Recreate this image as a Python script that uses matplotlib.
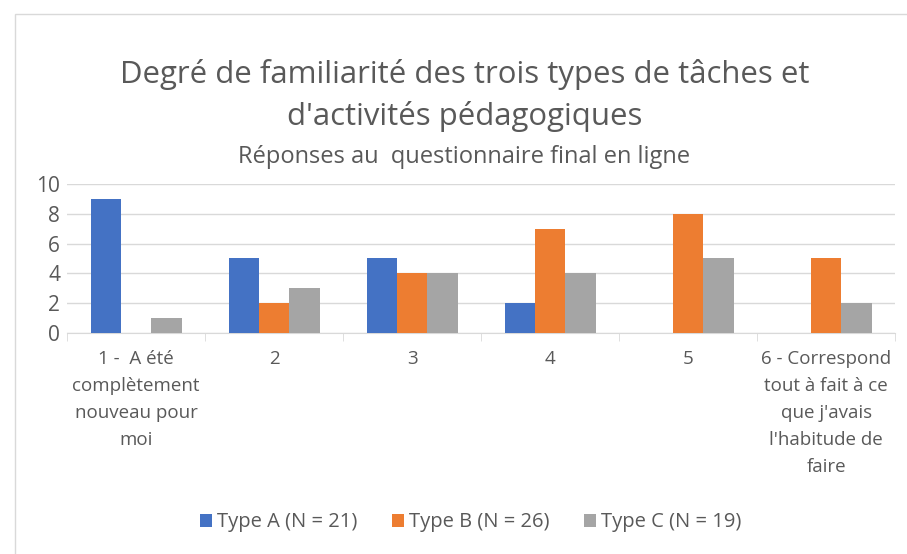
import numpy as np
import matplotlib.pyplot as plt
from matplotlib.patches import Rectangle

categories = ["1 -  A été\ncomplètement\nnouveau pour\nmoi", "2", "3", "4", "5",
              "6 - Correspond\ntout à fait à ce\nque j'avais\nl'habitude de\nfaire"]
type_a = [9, 5, 5, 2, 0, 0]
type_b = [0, 2, 4, 7, 8, 5]
type_c = [1, 3, 4, 4, 5, 2]
labels = ["Type A (N = 21)", "Type B (N = 26)", "Type C (N = 19)"]
colors = ["#4472C4", "#ED7D31", "#A5A5A5"]

plt.rcParams['font.family'] = ['Open Sans', 'DejaVu Sans']
txt = '#595959'

fig = plt.figure(figsize=(9.07, 5.54), dpi=100)
fig.patches.append(Rectangle((0.016, -0.01), 1.0, 0.985, transform=fig.transFigure,
                             fill=False, edgecolor='#D9D9D9', linewidth=1.0))
ax = fig.add_axes([0.074, 0.399, 0.913, 0.269])

x = np.arange(len(categories))
w = 0.22
for i, (vals, lab, col) in enumerate(zip([type_a, type_b, type_c], labels, colors)):
    ax.bar(x + (i - 1) * w, vals, w, color=col, label=lab, zorder=3)

ax.set_xlim(-0.5, 5.5)
ax.set_ylim(0, 10)
ax.set_yticks([0, 2, 4, 6, 8, 10])
ax.yaxis.grid(True, color='#D9D9D9', linewidth=1.0, zorder=0)
for s in ['top', 'right', 'left']:
    ax.spines[s].set_visible(False)
ax.spines['bottom'].set_color('#D9D9D9')
ax.set_xticks(x)
ax.set_xticklabels(categories, color=txt, fontsize=13.5, linespacing=1.65)
ax.set_xticks(np.arange(-0.5, 6, 1), minor=True)
ax.tick_params(axis='x', which='major', length=0, pad=12)
ax.tick_params(axis='x', which='minor', length=6, color='#D9D9D9')
ax.tick_params(axis='y', length=0, labelsize=15, labelcolor=txt, pad=5)

fig.text(0.512, 0.866, "Degré de familiarité des trois types de tâches et",
         ha='center', va='center', fontsize=22.4, color=txt)
fig.text(0.512, 0.79, "d'activités pédagogiques",
         ha='center', va='center', fontsize=22.4, color=txt)
fig.text(0.512, 0.717, "Réponses au  questionnaire final en ligne",
         ha='center', va='center', fontsize=17, color=txt)

fig.legend(loc='center', bbox_to_anchor=(0.519, 0.057), ncol=3, frameon=False,
           fontsize=14.5, labelcolor=txt, handlelength=0.6, handleheight=0.6,
           handletextpad=0.25, columnspacing=1.7)

fig.savefig('out.png', dpi=100)
